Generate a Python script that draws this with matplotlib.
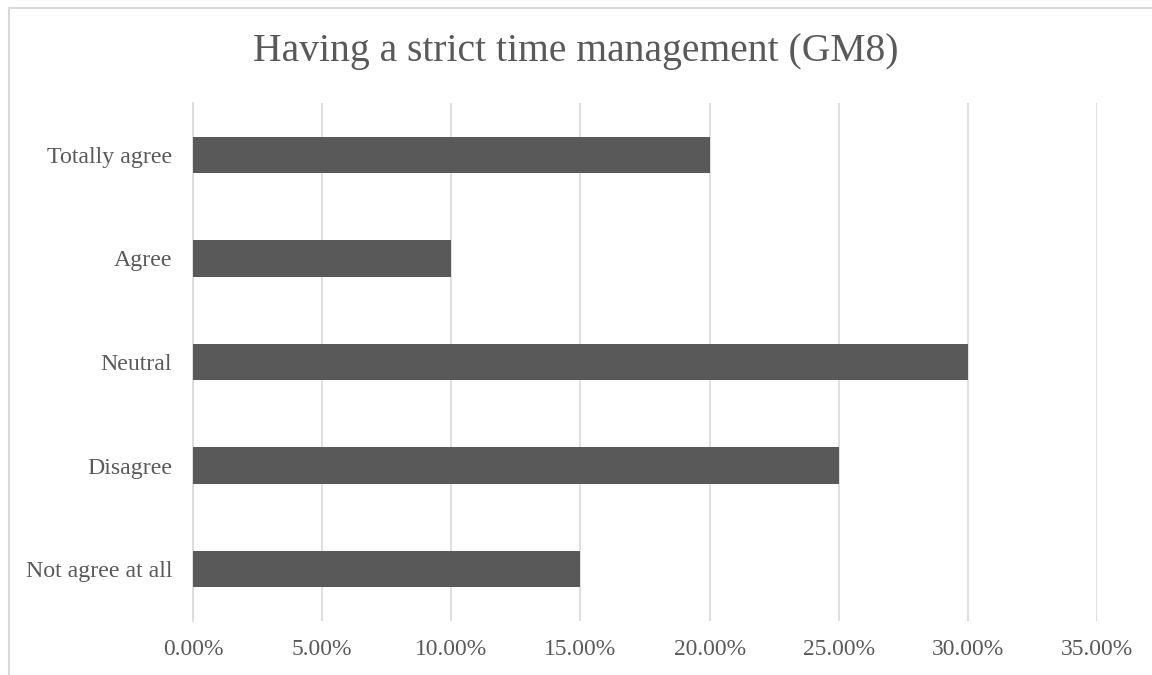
import matplotlib.pyplot as plt
from matplotlib.lines import Line2D
from matplotlib.ticker import PercentFormatter

categories = ["Not agree at all", "Disagree", "Neutral", "Agree", "Totally agree"]
values = [0.15, 0.25, 0.30, 0.10, 0.20]
title = "Having a strict time management (GM8)"

plt.rcParams['font.family'] = ['Liberation Serif', 'DejaVu Serif']
txt = "#595959"

fig = plt.figure(figsize=(11.52, 6.75), dpi=100)
ax = fig.add_axes([193/1152, 1 - 621/675, (1097 - 193)/1152, (621 - 103)/675])

ax.barh(range(len(categories)), values, height=0.35, color="#595959", zorder=3)
ax.set_yticks(range(len(categories)))
ax.set_yticklabels(categories)
ax.set_ylim(-0.5, len(categories) - 0.5)
ax.set_xlim(0, 0.35)
ax.set_xticks([i * 0.05 for i in range(8)])
ax.xaxis.set_major_formatter(PercentFormatter(1.0, decimals=2))
ax.grid(axis="x", color="#D9D9D9", linewidth=1.2, zorder=0)
for s in ["top", "right", "bottom"]:
    ax.spines[s].set_visible(False)
ax.spines["left"].set_color("#D9D9D9")
ax.spines["left"].set_linewidth(1.2)
ax.tick_params(length=0, colors=txt)
ax.tick_params(axis="x", labelsize=16.9, pad=13)
ax.tick_params(axis="y", labelsize=17.2, pad=15)

fig.text(576/1152, 1 - 51/675, title, ha="center", va="center", fontsize=28.5, color=txt)

# chart border (top and left visible)
fig.add_artist(Line2D([8.5/1152, 8.5/1152], [0, 1 - 7.5/675], transform=fig.transFigure, color="#D9D9D9", lw=1.5))
fig.add_artist(Line2D([8.5/1152, 1], [1 - 7.5/675, 1 - 7.5/675], transform=fig.transFigure, color="#D9D9D9", lw=1.5))

fig.savefig("out.png", dpi=100)
